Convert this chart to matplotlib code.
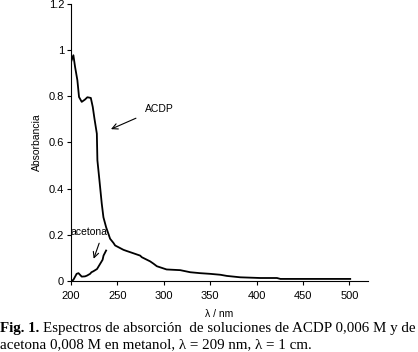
import matplotlib
matplotlib.use("Agg")
import matplotlib.pyplot as plt

acdp_nm = [200, 202.5, 204.3, 206.8, 208.6, 211.5, 215, 217.6, 221.3, 223.4, 225.2, 227.8,
           228.4, 230.6, 233.1, 234.9, 237.8, 242.1, 245.7, 247.5, 256.5, 260, 267.3, 274.5,
           276.3, 285.3, 288.9, 292.5, 303, 317.7, 328.5, 339, 350, 361, 368, 382.5, 404,
           422, 425.7, 460, 501]
acdp_abs = [0.949, 0.978, 0.928, 0.87, 0.797, 0.776, 0.786, 0.796, 0.793, 0.754, 0.704, 0.638,
            0.523, 0.436, 0.335, 0.276, 0.233, 0.183, 0.165, 0.154, 0.135, 0.13, 0.12, 0.11,
            0.103, 0.085, 0.075, 0.064, 0.05, 0.047, 0.038, 0.034, 0.031, 0.027, 0.022, 0.016, 0.013,
            0.013, 0.009, 0.009, 0.009]

acet_nm = [200, 202.5, 206, 208, 211.5, 215, 217, 220.5, 222, 224, 228, 229.2, 231.3, 234, 235,
           237.8]
acet_abs = [0.0, 0.005, 0.031, 0.034, 0.019, 0.02, 0.023, 0.031, 0.038, 0.042, 0.052, 0.06,
            0.074, 0.092, 0.11, 0.132]

xticks = [200, 250, 300, 350, 400, 450, 500]
yticks = [0, 0.2, 0.4, 0.6, 0.8, 1, 1.2]
ytick_labels = ["0", "0.2", "0.4", "0.6", "0.8", "1", "1.2"]

plt.rcParams['font.family'] = ['Liberation Sans', 'DejaVu Sans']

fig = plt.figure(figsize=(4.18, 3.52), dpi=100)
ax = fig.add_axes([0.17, 0.2017, 0.71, 0.787])
ax.plot(acdp_nm, acdp_abs, color='black', lw=1.3)
ax.plot(acet_nm, acet_abs, color='black', lw=1.3)
ax.set_xlim(200, 520)
ax.set_ylim(0, 1.2)
ax.set_xticks(xticks)
ax.set_yticks(yticks)
ax.set_yticklabels(ytick_labels)
ax.spines['top'].set_visible(False)
ax.spines['right'].set_visible(False)
ax.tick_params(labelsize=8, length=3, width=0.8, direction='out', pad=2)
ax.tick_params(axis='x', pad=4)
ax.set_ylabel('Absorbancia', fontsize=7.5, labelpad=5)
ax.set_xlabel('λ / nm', fontsize=7.5, labelpad=6)

ax.text(280, 0.744, 'ACDP', fontsize=7.5, va='center', ha='left')
ax.annotate('', xy=(240.3, 0.653), xytext=(272.7, 0.71),
            arrowprops=dict(arrowstyle='->', color='black', lw=0.8))
ax.text(199.5, 0.211, 'acetona', fontsize=7.5, va='center', ha='left')
ax.annotate('', xy=(223.4, 0.085), xytext=(231.3, 0.175),
            arrowprops=dict(arrowstyle='->', color='black', lw=0.8))

fs = 10.8
t1 = fig.text(0.0, 0.066, 'Fig. 1.', fontsize=fs, family='Liberation Serif', weight='bold', va='center')
fig.canvas.draw()
bb = t1.get_window_extent(renderer=fig.canvas.get_renderer())
x2 = (bb.x1 + 4) / fig.bbox.width
fig.text(x2, 0.066, 'Espectros de absorción  de soluciones de ACDP 0,006 M y de',
         fontsize=fs, family='Liberation Serif', va='center')
fig.text(0.0, 0.020, 'acetona 0,008 M en metanol, λ = 209 nm, λ = 1 cm.',
         fontsize=fs, family='Liberation Serif', va='center')

fig.savefig('out.png', dpi=100)
